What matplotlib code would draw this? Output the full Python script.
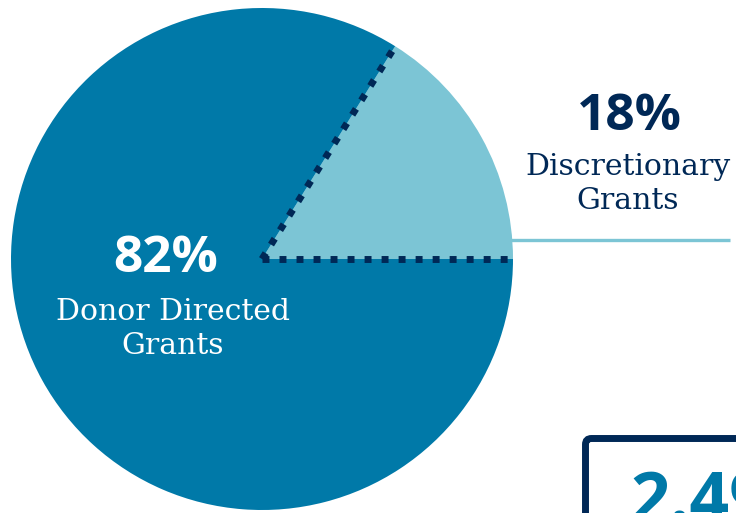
import numpy as np
import matplotlib
matplotlib.use("Agg")
import matplotlib.pyplot as plt
from matplotlib.patches import FancyBboxPatch

# Data (wedge shares as drawn; label text as printed)
categories = ["Discretionary Grants", "Donor Directed Grants"]
shares = [16.1, 83.9]
pct_labels = ["18%", "82%"]
sub_labels = ["Discretionary\nGrants", "Donor Directed\nGrants"]
callout_value = "2.49"

DARK = "#0079A8"
LIGHT = "#7CC5D5"
NAVY = "#002856"

W, H = 736, 513
fig = plt.figure(figsize=(W / 100, H / 100), dpi=100)
ax = fig.add_axes([0, 0, 1, 1])

cx, cy, r = 262, H - 259, 251
wedges, _ = ax.pie(shares, colors=[LIGHT, DARK], startangle=0, counterclock=True,
                   center=(cx, cy), radius=r, frame=True,
                   wedgeprops=dict(linewidth=0))
ax.set_xlim(0, W)
ax.set_ylim(0, H)
ax.set_aspect("equal")
ax.axis("off")

# dotted boundaries of the small wedge
dot_lw = 5.0
for ang in (wedges[0].theta1, wedges[0].theta2):
    a = np.deg2rad(ang)
    ax.plot([cx, cx + r * np.cos(a)], [cy, cy + r * np.sin(a)], color=NAVY,
            lw=dot_lw, linestyle=(0, (1.0, 1.45)), solid_capstyle="butt",
            dash_capstyle="butt", zorder=5)

# connector line
ly = H - 239.5
lx0 = cx + np.sqrt(r ** 2 - (ly - cy) ** 2) - 2
ax.plot([lx0, 730], [ly, ly], color=LIGHT, lw=2.4, solid_capstyle="butt", zorder=4)

bold = dict(family=["Open Sans", "DejaVu Sans"], weight="bold")
serif = dict(family=["DejaVu Serif"])

# labels
ax.text(629, H - 117, pct_labels[0], ha="center", va="center", fontsize=37, color=NAVY, **bold)
ax.text(628, H - 184, sub_labels[0], ha="center", va="center", fontsize=21.5,
        color=NAVY, linespacing=1.3, **serif)
ax.text(165.5, H - 259, pct_labels[1], ha="center", va="center", fontsize=37, color="white", **bold)
ax.text(173, H - 329, sub_labels[1], ha="center", va="center", fontsize=21.5,
        color="white", linespacing=1.3, **serif)

# callout box at bottom right
box = FancyBboxPatch((585.5, H - 560), 300, 560 - 438.5,
                     boxstyle="round,pad=0,rounding_size=6",
                     facecolor="white", edgecolor=NAVY, lw=5, zorder=6)
box.set_clip_on(False)
ax.add_patch(box)
ax.text(630, H - 469, callout_value, ha="left", va="top", fontsize=50,
        color=DARK, zorder=7, **bold)

fig.savefig("out.png", dpi=100)
